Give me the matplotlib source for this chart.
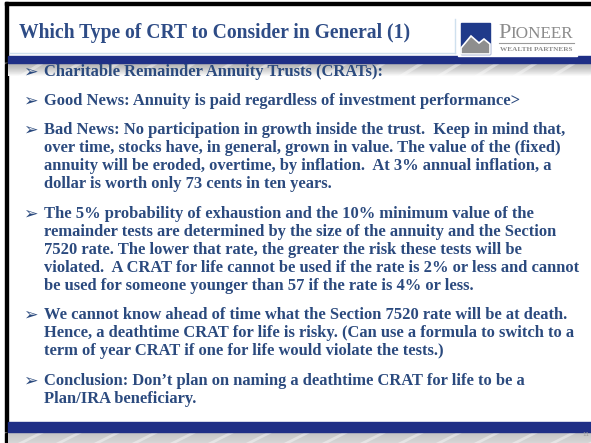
import matplotlib
matplotlib.use("Agg")
import matplotlib.pyplot as plt
import numpy as np
from matplotlib.patches import Rectangle, Polygon

title_text = "Which Type of CRT to Consider in General (1)"
logo_main = "PIONEER"
logo_sub = "WEALTH PARTNERS"
slide_number = "11"

bullet_1 = ["Charitable Remainder Annuity Trusts (CRATs):"]
bullet_2 = ["Good News: Annuity is paid regardless of investment performance>"]
bullet_3 = ["Bad News: No participation in growth inside the trust.  Keep in mind that,",
            "over time, stocks have, in general, grown in value. The value of the (fixed)",
            "annuity will be eroded, overtime, by inflation.  At 3% annual inflation, a",
            "dollar is worth only 73 cents in ten years."]
bullet_4 = ["The 5% probability of exhaustion and the 10% minimum value of the",
            "remainder tests are determined by the size of the annuity and the Section",
            "7520 rate. The lower that rate, the greater the risk these tests will be",
            "violated.  A CRAT for life cannot be used if the rate is 2% or less and cannot",
            "be used for someone younger than 57 if the rate is 4% or less."]
bullet_5 = ["We cannot know ahead of time what the Section 7520 rate will be at death.",
            "Hence, a deathtime CRAT for life is risky. (Can use a formula to switch to a",
            "term of year CRAT if one for life would violate the tests.)"]
bullet_6 = ["Conclusion: Don\u2019t plan on naming a deathtime CRAT for life to be a",
            "Plan/IRA beneficiary."]
bullets = [bullet_1, bullet_2, bullet_3, bullet_4, bullet_5, bullet_6]
bullet_tops = [72, 101, 130, 214, 315, 381]

W, H = 591, 443
NAVY = "#1f2f86"
TEXT = "#2b4a7e"

fig = plt.figure(figsize=(W / 100, H / 100), dpi=100)
ax = fig.add_axes([0, 0, 1, 1])
ax.set_xlim(0, W)
ax.set_ylim(H, 0)
ax.axis("off")

# black frame (top & left)
ax.add_patch(Rectangle((0, 0), W, H, color="white", zorder=0))
ax.add_patch(Rectangle((5, 2), W - 5, 3, color="black", zorder=1))
ax.add_patch(Rectangle((5, 2), 3, H, color="black", zorder=1))

# title box lines
ax.plot([10, 455], [53, 53], color="#cfe0ee", lw=1, zorder=2)
ax.plot([455, 455], [19, 53], color="#cfe0ee", lw=1, zorder=2)

ax.text(19, 33, title_text, fontsize=14.1, fontweight="bold", family="Liberation Serif",
        color="#2e4c86", va="center", ha="left", zorder=3)


def striped_band(y0, y1, fade=False):
    # grey band with light diagonal streaks
    n = 60
    for i in range(n):
        yy0 = y0 + (y1 - y0) * i / n
        h = (y1 - y0) / n
        if fade:
            g = 0.70 + 0.30 * (i / n) ** 1.5
        else:
            g = 0.76 + 0.08 * i / n
        ax.add_patch(Rectangle((8, yy0), W - 8, h + 0.3, color=(g, g, g), lw=0, zorder=1))
    for x in np.arange(-20, W, 38):
        ax.add_patch(Polygon([[x, y1], [x + 6, y1], [x + 28, y0], [x + 22, y0]],
                             closed=True, color="white", alpha=0.4, lw=0, zorder=1.5))


# header bands
ax.add_patch(Rectangle((8, 55.5), W - 8, 7, color=NAVY, zorder=2))
striped_band(62.5, 76, fade=True)

# footer bands
ax.add_patch(Rectangle((8, 421.5), W - 8, 10.5, color=NAVY, zorder=2))
striped_band(432, H)
ax.text(586, 435, slide_number, fontsize=4, color="#9a9a9a", ha="center", va="center", zorder=3)

# logo
ax.add_patch(Rectangle((458, 17), 119, 39, color="white", zorder=3))
ax.add_patch(Rectangle((461, 23), 29, 31, color="#1f3a8a", zorder=4))
ax.add_patch(Polygon([[461, 54], [461, 48], [471, 36], [479, 43], [484, 39], [490, 44], [490, 54]],
                     closed=True, facecolor="#8e8e8e", edgecolor="white", lw=1.2, zorder=5))
ax.text(498, 38, "P", fontsize=16, family="Liberation Serif", color="#8c8c8c",
        ha="left", va="baseline", zorder=5)
ax.text(510, 38, "IONEER", fontsize=12.3, family="Liberation Serif", color="#8c8c8c",
        ha="left", va="baseline", zorder=5)
ax.plot([499, 574], [43, 43], color="#9a9a9a", lw=0.8, zorder=5)
ax.text(536.5, 49, logo_sub, fontsize=5.2, family="Liberation Serif", fontweight="bold",
        color="#8c8c8c", ha="center", va="center", zorder=5)

# bullets
line_h = 18
for lines, top in zip(bullets, bullet_tops):
    ax.text(23, top, "\u27a2", fontsize=12.5, family="DejaVu Sans", color=TEXT,
            ha="left", va="center", zorder=6)
    for j, ln in enumerate(lines):
        ax.text(44.5, top + j * line_h, ln, fontsize=11.85, fontweight="bold",
                family="Liberation Serif", color=TEXT, ha="left", va="center", zorder=6)

fig.savefig("out.png", dpi=100)
